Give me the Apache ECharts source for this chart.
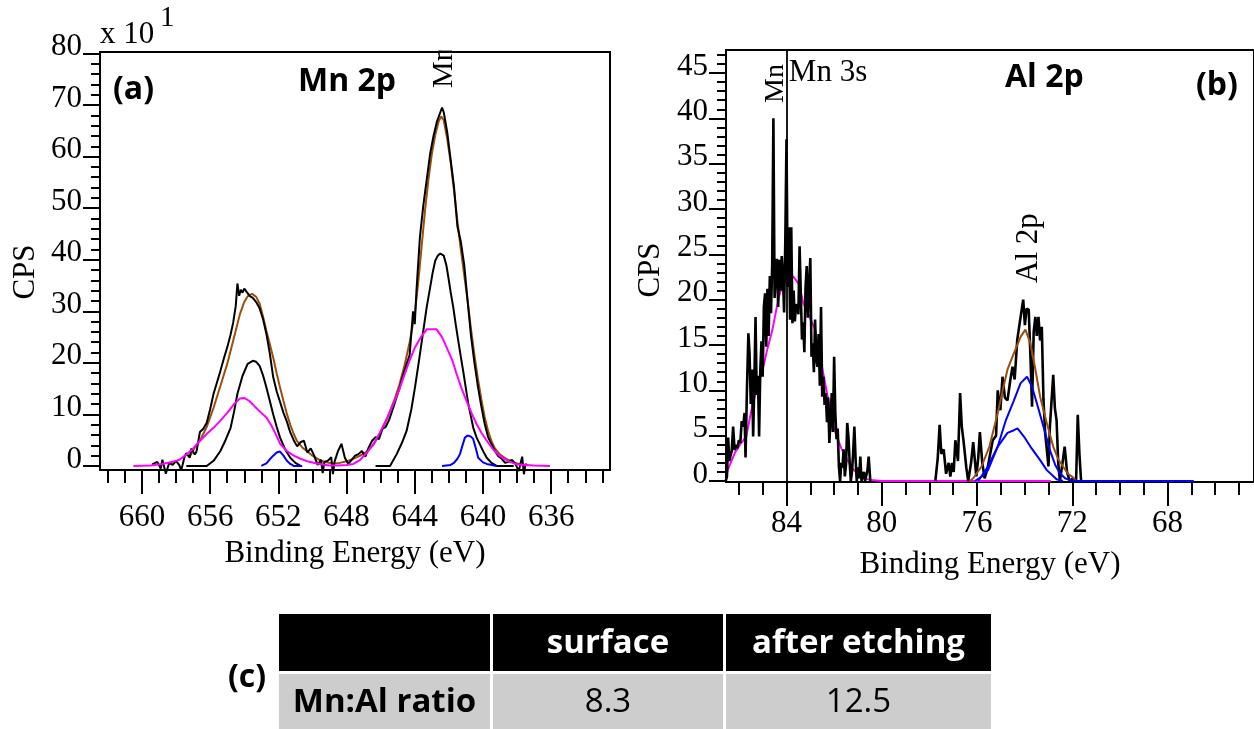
<!DOCTYPE html>
<html>
<head>
<meta charset="utf-8">
<script src="https://cdn.jsdelivr.net/npm/echarts@6/dist/echarts.min.js"></script>
<style>
html, body { margin: 0; padding: 0; background: #fff; }
#chart { width: 1254px; height: 729px; }
</style>
</head>
<body>
<div id="chart"></div>
<script>
// ---- (a) Mn 2p: [binding energy (eV), counts in units of 10 CPS] ----
const mn2pRaw = [
  [659.4,0.3],[659.1,0.8],[658.9,-0.5],[658.8,1.2],[658.6,-1.5],[658.4,0.6],[658.2,0.2],[658.0,1.0],
  [657.8,0.1],[657.7,-0.9],[657.5,1.8],[657.4,2.5],[657.2,1.6],[657.1,3.4],[656.9,2.2],[656.8,2.8],
  [656.6,6.6],[656.4,7.2],[656.2,8.4],[656.0,11.0],[655.8,14.0],[655.6,16.2],[655.4,18.4],[655.2,20.8],
  [655.0,23.0],[654.8,25.5],[654.65,27.8],[654.5,31.0],[654.4,35.4],[654.3,33.0],[654.2,34.2],[654.1,33.6],
  [654.0,34.4],[653.8,33.5],[653.65,32.9],[653.5,32.6],[653.3,31.8],[653.1,30.6],[652.9,28.5],[652.7,25.6],
  [652.5,21.8],[652.3,17.2],[652.1,14.5],[651.9,12.4],[651.7,10.3],[651.5,8.6],[651.3,6.5],[651.1,5.0],
  [650.9,3.8],[650.7,4.6],[650.5,4.9],[650.3,2.6],[650.1,3.4],[649.9,2.0],[649.7,0.2],[649.5,1.2],
  [649.4,-1.4],[649.3,0.8],[649.1,1.0],[648.9,1.7],[648.8,-1.6],[648.7,0.9],[648.5,2.9],[648.3,4.3],
  [648.1,1.6],[647.9,0.4],[647.7,1.2],[647.5,2.0],[647.3,2.3],[647.1,2.9],[646.9,1.8],[646.7,3.6],
  [646.5,4.9],[646.3,5.6],[646.1,5.2],[645.9,7.2],[645.7,7.6],[645.5,9.0],[645.3,10.9],[645.1,13.0],
  [644.9,15.0],[644.7,17.5],[644.5,19.5],[644.3,21.5],[644.1,30.0],[644.0,27.5],[643.9,34.0],[643.7,44.3],
  [643.5,50.5],[643.3,55.5],[643.1,60.5],[642.9,64.0],[642.7,66.8],[642.5,68.6],[642.4,69.5],[642.3,68.6],
  [642.1,64.8],[641.9,59.5],[641.7,54.2],[641.5,46.5],[641.3,43.5],[641.1,39.0],[640.9,32.0],[640.7,25.2],
  [640.5,20.0],[640.3,15.5],[640.1,11.6],[639.9,8.2],[639.7,5.6],[639.5,4.2],[639.3,2.9],[639.1,1.9],
  [638.9,1.4],[638.7,0.6],[638.5,0.8],[638.3,1.2],[638.1,0.4],[637.9,-1.0],[637.8,0.5],[637.7,1.8],
  [637.6,-1.6],[637.5,0.4],[637.4,0.1]
];
const mn2pEnvelope = [
  [657.2,1.8],[656.9,3.6],[656.6,4.9],[656.2,7.6],[655.8,11.3],[655.4,15.5],[655.0,19.8],[654.65,24.3],
  [654.25,29.5],[654.0,31.8],[653.8,32.9],[653.55,33.4],[653.3,32.8],[653.1,31.5],[652.9,29.0],[652.7,26.2],
  [652.5,23.6],[652.3,21.0],[652.1,18.0],[651.9,15.2],[651.7,12.6],[651.5,10.1],[651.3,8.0],[651.1,6.2],
  [650.9,4.8],[650.6,3.6],[650.3,2.8],[650.0,2.0],[649.6,1.2],[649.2,0.7],[648.8,0.5],[648.4,0.6],
  [648.0,0.9],[647.6,1.4],[647.2,2.0],[646.8,2.8],[646.4,4.2],[646.0,6.6],[645.6,9.4],[645.2,12.8],
  [644.9,15.8],[644.6,19.5],[644.3,24.0],[644.0,29.5],[643.8,35.5],[643.6,42.5],[643.4,49.5],[643.2,55.5],
  [643.0,60.5],[642.8,64.2],[642.6,66.8],[642.45,67.8],[642.3,67.0],[642.1,63.5],[641.9,59.0],[641.7,53.5],
  [641.5,47.5],[641.3,42.0],[641.1,37.0],[640.9,32.0],[640.7,26.5],[640.5,21.5],[640.3,17.0],[640.1,13.0],
  [639.9,9.5],[639.7,6.8],[639.5,4.8],[639.3,3.4],[639.0,2.2],[638.6,1.3],[638.2,0.7],[637.8,0.3]
];
const mn2pMainPeaks = [
  [657.4,0],[656.2,0],[655.8,1.0],[655.4,2.9],[655.1,5.0],[654.8,7.4],[654.6,10.5],[654.4,14.0],
  [654.1,17.5],[653.8,19.8],[653.5,20.4],[653.3,20.2],[653.1,19.4],[652.9,17.6],[652.7,15.2],[652.5,12.6],
  [652.3,10.0],[652.1,7.6],[651.9,5.5],[651.6,3.2],[651.3,1.6],[651.0,0.6],[650.7,0],
  [648.0,null],
  [646.3,0],[645.45,0],[645.06,2.3],[644.75,4.5],[644.48,6.8],[644.2,11.0],[643.99,15.2],[643.75,20.5],
  [643.5,26.2],[643.3,30.8],[643.1,34.6],[642.95,37.5],[642.8,39.8],[642.65,40.8],[642.5,41.2],[642.3,40.8],
  [642.15,39.0],[642.03,36.6],[641.9,33.8],[641.74,30.7],[641.6,27.5],[641.45,24.3],[641.3,21.2],[641.16,18.4],
  [641.0,15.0],[640.86,12.0],[640.7,9.5],[640.57,7.4],[640.37,5.5],[640.18,4.2],[639.98,2.8],[639.78,1.6],
  [639.5,0.6],[639.2,0],[638.2,0]
];
const mn2pBroadPeaks = [
  [660.5,0],[659.5,0.1],[658.8,0.4],[658.2,0.8],[657.8,1.2],[657.4,2.2],[657.0,3.4],[656.6,4.9],
  [656.2,6.2],[655.8,7.4],[655.4,8.8],[655.0,10.3],[654.6,12.0],[654.25,13.1],[654.0,13.2],[653.7,12.6],
  [653.4,11.6],[653.0,10.3],[652.7,9.4],[652.4,7.8],[652.1,5.8],[651.9,4.3],[651.5,2.9],[651.1,2.0],
  [650.7,1.4],[650.2,0.8],[649.6,0.4],[649.0,0.1],[648.5,0.1],[648.0,0.2],[647.6,0.4],[647.2,1.2],
  [646.8,2.6],[646.4,4.4],[646.04,6.5],[645.6,9.4],[645.26,12.0],[644.95,14.5],[644.67,17.1],[644.3,20.5],
  [643.99,23.0],[643.6,25.2],[643.3,26.5],[642.72,26.5],[642.4,25.0],[642.13,23.0],[641.8,20.5],[641.54,17.8],
  [641.25,15.0],[640.96,12.6],[640.66,10.2],[640.37,8.1],[640.08,6.4],[639.78,4.9],[639.4,3.2],[639.0,1.9],
  [638.5,0.9],[638.02,0.3],[637.0,0.1],[636.07,0]
];
const mn2pMinorPeaks = [
  [653.0,0],[652.7,0.5],[652.5,1.3],[652.3,2.0],[652.1,2.6],[651.9,2.8],[651.7,2.0],[651.5,1.0],
  [651.3,0.4],[651.1,0],[650.6,0],
  [646.0,null],
  [642.4,0],[641.9,0.2],[641.7,0.6],[641.5,1.4],[641.35,2.3],[641.2,4.0],[641.06,5.5],[640.9,5.9],
  [640.7,5.7],[640.57,5.2],[640.4,3.2],[640.28,1.6],[640.0,0.7],[639.78,0.4],[639.2,0]
];

// ---- (b) Mn 3s / Al 2p: [binding energy (eV), CPS] ----
const mn3sRaw = [
  [86.55,0],[86.5,0.5],[86.45,4.8],[86.4,2.2],[86.35,2.8],[86.3,3.3],[86.24,6.0],[86.18,3.4],
  [86.12,4.0],[86.06,3.6],[86.0,4.5],[85.94,4.2],[85.88,6.6],[85.82,6.0],[85.76,7.5],[85.72,2.6],
  [85.66,10.2],[85.6,16.3],[85.55,14.0],[85.5,8.5],[85.45,12.3],[85.4,4.9],[85.35,10.8],[85.3,18.1],
  [85.25,9.5],[85.2,11.6],[85.15,4.9],[85.1,12.3],[85.05,15.4],[85.0,11.5],[84.95,19.2],[84.9,20.7],
  [84.85,14.8],[84.8,21.2],[84.75,16.0],[84.7,22.6],[84.65,18.5],[84.6,23.9],[84.55,40.0],[84.5,20.2],
  [84.45,23.0],[84.4,24.5],[84.35,19.2],[84.3,24.4],[84.25,21.0],[84.2,24.8],[84.15,22.6],[84.1,18.6],
  [84.05,26.5],[84.0,37.7],[83.95,21.4],[83.9,28.0],[83.85,17.8],[83.8,28.0],[83.75,17.4],[83.7,21.0],
  [83.65,17.6],[83.6,19.5],[83.55,19.2],[83.5,18.4],[83.45,25.9],[83.4,20.8],[83.35,15.6],[83.3,17.5],
  [83.25,14.2],[83.2,21.4],[83.15,23.7],[83.1,18.0],[83.05,21.6],[83.0,24.6],[82.95,13.7],[82.9,15.2],
  [82.85,12.0],[82.8,17.8],[82.75,13.5],[82.7,12.6],[82.65,16.2],[82.6,10.5],[82.55,19.2],[82.5,9.3],
  [82.45,11.5],[82.4,8.4],[82.35,9.7],[82.3,6.5],[82.25,9.2],[82.2,4.2],[82.15,6.8],[82.1,9.7],
  [82.05,5.4],[82.0,13.7],[81.95,7.5],[81.9,4.6],[81.85,5.8],[81.8,1.6],[81.75,0],[81.7,2.0],
  [81.65,1.5],[81.6,3.5],[81.55,0.5],[81.5,1.8],[81.45,6.4],[81.4,4.9],[81.35,2.2],[81.3,0],
  [81.25,1.0],[81.2,3.2],[81.15,6.0],[81.1,2.5],[81.05,0],[81.0,1.5],[80.95,0.3],[80.9,2.7],
  [80.85,0],[80.75,1.0],[80.7,0],[80.6,1.2],[80.55,2.7],[80.48,0]
];
const al2pRaw = [
  [77.75,0],[77.65,2.5],[77.57,6.2],[77.5,3.0],[77.4,3.5],[77.3,0.8],[77.19,2.0],[77.12,0.5],
  [77.05,2.0],[76.98,1.0],[76.91,4.5],[76.8,2.2],[76.71,9.7],[76.64,6.0],[76.57,4.5],[76.45,1.5],
  [76.37,0],[76.25,2.0],[76.16,4.3],[76.03,0.5],[75.95,2.5],[75.88,5.4],[75.78,2.0],[75.68,0.3],
  [75.55,1.5],[75.48,2.5],[75.34,4.5],[75.2,5.0],[75.13,10.0],[75.02,7.8],[74.93,11.5],[74.83,9.2],
  [74.72,8.9],[74.61,11.0],[74.51,12.6],[74.42,11.2],[74.31,15.6],[74.17,18.1],[74.06,20.0],[73.99,17.2],
  [73.92,19.0],[73.83,18.9],[73.76,14.0],[73.69,8.2],[73.62,16.5],[73.55,18.1],[73.49,16.0],[73.42,18.1],
  [73.35,15.5],[73.28,17.0],[73.21,9.0],[73.14,5.3],[73.07,3.5],[73.0,1.6],[72.94,6.0],[72.8,11.7],
  [72.73,8.0],[72.66,6.7],[72.59,2.0],[72.52,0],[72.41,2.0],[72.32,3.8],[72.22,1.0],[72.11,0],
  [71.97,0.3],[71.84,0],[71.77,7.3],[71.7,3.0],[71.63,0]
];
const mn3sFit = [
  [86.5,0.9],[86.44,1.4],[86.17,3.1],[85.95,4.0],[85.69,4.9],[85.55,6.8],[85.41,8.6],[85.2,10.5],
  [85.0,12.3],[84.8,14.6],[84.59,16.7],[84.45,18.6],[84.32,20.3],[84.15,21.8],[84.0,22.6],[83.9,22.9],
  [83.7,22.5],[83.5,21.8],[83.29,19.6],[83.05,18.2],[82.8,16.7],[82.6,13.8],[82.4,11.1],[82.2,8.3],
  [81.98,5.6],[81.7,3.6],[81.44,2.3],[81.2,1.3],[81.03,0.85],[80.75,0.35],[80.48,0.1],[80.0,0],
  [77.0,0],[74.0,0],[72.9,0]
];
const al2pEnvelope = [
  [76.3,0],[76.16,0.3],[75.81,1.6],[75.48,3.8],[75.13,7.5],[74.92,10.0],[74.72,12.3],[74.45,14.1],
  [74.17,15.9],[73.97,16.7],[73.76,15.2],[73.55,12.3],[73.35,9.3],[73.07,6.4],[72.8,3.8],[72.59,2.4],
  [72.39,1.6],[72.18,0.8],[71.97,0.4],[71.84,0]
];
const al2pPeakMain = [
  [76.09,0],[75.8,0.5],[75.54,1.2],[75.13,3.8],[74.79,6.7],[74.45,8.9],[74.17,10.8],[73.9,11.5],
  [73.69,10.4],[73.49,8.6],[73.21,6.0],[72.94,3.4],[72.72,1.8],[72.52,0.85],[72.3,0.3],[72.11,0.1],
  [71.8,0],[66.9,0]
];
const al2pPeakMinor = [
  [75.95,0],[75.54,1.6],[75.13,3.8],[74.72,5.3],[74.45,5.6],[74.3,5.8],[74.03,4.9],[73.76,3.8],
  [73.35,2.3],[73.07,1.2],[72.66,0.2],[72.39,0]
];
const mn3sMarkerEnergy = 84.0;

// ---- tick labels ----
const mn2pEnergyLabels = [660, 656, 652, 648, 644, 640, 636];
const mn2pCpsLabels = [0, 10, 20, 30, 40, 50, 60, 70, 80];
const al2pEnergyLabels = [84, 80, 76, 72, 68];
const al2pCpsLabels = [0, 5, 10, 15, 20, 25, 30, 35, 40, 45];

// ---- (c) table ----
const tableHeader = ['', 'surface', 'after etching'];
const tableRow = ['Mn:Al ratio', '8.3', '12.5'];

function steps(from, to, step) {
  const out = [];
  for (let v = from; v <= to + 1e-9; v += step) out.push(+v.toFixed(3));
  return out;
}

const SERIF = '"Liberation Serif", "Times New Roman", serif';
const SANS = '"Open Sans", "Noto Sans", sans-serif';
const INK = '#000';
const BROWN = '#9a4f0a';
const MAGENTA = '#ff00ff';
const BLUE = '#0000ff';

function xAxisPair(grid, min, max, labels, minorTicks, labelMargin) {
  const base = {
    type: 'value', gridIndex: grid, min: min, max: max, inverse: true,
    position: 'bottom', offset: 0, splitLine: { show: false }
  };
  return [
    Object.assign({}, base, {
      axisLine: { show: true, onZero: false, lineStyle: { color: INK, width: 2 } },
      axisTick: { show: true, inside: false, customValues: labels, length: 24, lineStyle: { color: INK, width: 2 } },
      axisLabel: { show: true, customValues: labels, margin: labelMargin, color: INK,
        fontFamily: SERIF, fontSize: 31, lineHeight: 28 },
      name: 'Binding Energy (eV)', nameLocation: 'middle', nameGap: 67,
      nameTextStyle: { fontFamily: SERIF, fontSize: 31, color: INK, lineHeight: 31 }
    }),
    Object.assign({}, base, {
      axisLine: { show: false, onZero: false },
      axisTick: { show: true, inside: false, customValues: minorTicks, length: 13, lineStyle: { color: INK, width: 2 } },
      axisLabel: { show: false }
    })
  ];
}

function yAxisPair(grid, min, max, labels, minorTicks) {
  const base = {
    type: 'value', gridIndex: grid, min: min, max: max,
    position: 'left', offset: 0, splitLine: { show: false }
  };
  return [
    Object.assign({}, base, {
      axisLine: { show: true, onZero: false, lineStyle: { color: INK, width: 2 } },
      axisTick: { show: true, inside: false, customValues: labels, length: 17, lineStyle: { color: INK, width: 2 } },
      axisLabel: { show: true, customValues: labels, margin: 18, color: INK,
        fontFamily: SERIF, fontSize: 31, lineHeight: 13, verticalAlign: 'bottom' }
    }),
    Object.assign({}, base, {
      axisLine: { show: false, onZero: false },
      axisTick: { show: true, inside: false, customValues: minorTicks, length: 9, lineStyle: { color: INK, width: 2 } },
      axisLabel: { show: false }
    })
  ];
}

function curve(name, data, color, width, axisIdx, extra) {
  return Object.assign({
    name: name, type: 'line', data: data, xAxisIndex: axisIdx, yAxisIndex: axisIdx,
    symbol: 'none', showSymbol: false, connectNulls: false, silent: true,
    lineStyle: { color: color, width: width }, itemStyle: { color: color },
    animation: false
  }, extra || {});
}

const chart = echarts.init(document.getElementById('chart'), null, { renderer: 'canvas' });

chart.setOption({
  backgroundColor: '#fff',
  animation: false,
  grid: [
    { left: 100, top: 52, width: 510, height: 418, show: true, borderColor: INK, borderWidth: 2, backgroundColor: 'transparent' },
    { left: 726, top: 50, width: 539, height: 432, show: true, borderColor: INK, borderWidth: 2, backgroundColor: 'transparent' }
  ],
  xAxis: [].concat(
    xAxisPair(0, 632.55, 662.46, mn2pEnergyLabels, steps(633, 662, 1), 34),
    xAxisPair(1, 64.37, 86.54, al2pEnergyLabels, steps(65, 86, 1), 28)
  ),
  yAxis: [].concat(
    yAxisPair(0, -0.78, 80.29, mn2pCpsLabels, steps(0, 80, 2)),
    yAxisPair(1, -0.11, 47.54, al2pCpsLabels, steps(0, 47, 1))
  ),
  series: [
    curve('Mn 2p envelope', mn2pEnvelope, BROWN, 2, 0),
    curve('Mn 2p raw', mn2pRaw, INK, 2, 0, { clip: false }),
    curve('Mn 2p main', mn2pMainPeaks, INK, 2, 0),
    curve('Mn 2p broad', mn2pBroadPeaks, MAGENTA, 2, 0),
    curve('Mn 2p minor', mn2pMinorPeaks, BLUE, 2, 0),
    curve('Mn 3s fit', mn3sFit, MAGENTA, 2, 2),
    curve('Mn 3s raw', mn3sRaw, INK, 2.6, 2, {
      markLine: {
        silent: true, symbol: 'none', animation: false,
        label: { show: false },
        lineStyle: { color: INK, width: 1.8, type: 'solid' },
        data: [{ xAxis: mn3sMarkerEnergy }]
      }
    }),
    curve('Al 2p raw', al2pRaw, INK, 2.6, 2),
    curve('Al 2p envelope', al2pEnvelope, BROWN, 2, 2),
    curve('Al 2p main', al2pPeakMain, BLUE, 2, 2),
    curve('Al 2p minor', al2pPeakMinor, BLUE, 2, 2)
  ]
});

// text helpers
function txt(x, y, text, font, align, vAlign, color, rotation, z) {
  return {
    type: 'text', x: x, y: y, rotation: rotation || 0, z: z || 100, silent: true,
    style: {
      text: text, font: font, fill: color || INK,
      align: align || 'left', textAlign: align || 'left',
      verticalAlign: vAlign || 'middle', textVerticalAlign: vAlign || 'middle'
    }
  };
}

const pA = (e, v) => chart.convertToPixel({ seriesIndex: 0 }, [e, v]);
const pB = (e, v) => chart.convertToPixel({ seriesIndex: 5 }, [e, v]);

const mnA = pA(642.3, 73.3);
const mnB = pB(84.44, 41.7);
const mn3s = pB(83.9, 45.0);
const alB = pB(73.83, 21.85);

const graphics = [
  // axis multiplier
  txt(100, 35, 'x 10', '31px ' + SERIF),
  txt(160, 18, '1', '29px ' + SERIF),
  // y axis titles
  txt(26, 272, 'CPS', '31px ' + SERIF, 'center', 'middle', INK, Math.PI / 2),
  txt(651, 270, 'CPS', '31px ' + SERIF, 'center', 'middle', INK, Math.PI / 2),
  // panel titles
  txt(113, 90, '(a)', 'bold 32px ' + SANS),
  txt(298, 82, 'Mn 2p', 'bold 32px ' + SANS),
  txt(1196, 86, '(b)', 'bold 32px ' + SANS),
  txt(1005, 78, 'Al 2p', 'bold 32px ' + SANS),
  // peak annotations
  txt(mnA[0], mnA[1], 'Mn', '30px ' + SERIF, 'left', 'middle', INK, Math.PI / 2, 90),
  txt(mnB[0], mnB[1], 'Mn', '28px ' + SERIF, 'left', 'middle', INK, Math.PI / 2),
  txt(mn3s[0], mn3s[1], 'Mn 3s', '31px ' + SERIF, 'left', 'middle'),
  txt(alB[0], alB[1], 'Al 2p', '31px ' + SERIF, 'left', 'middle', INK, Math.PI / 2),
  // the Mn 2p annotation is cut at the frame edge
  { type: 'rect', z: 95, silent: true, shape: { x: 425, y: 0, width: 40, height: 50.5 }, style: { fill: '#fff' } },
  // (c) label
  txt(228, 678, '(c)', 'bold 32px ' + SANS)
];

// (c) table cells
const colEdges = [[279, 490], [493, 723], [726, 991]];
const rowEdges = [[614, 671], [674, 729]];
[tableHeader, tableRow].forEach(function (row, r) {
  row.forEach(function (cell, c) {
    const x0 = colEdges[c][0], x1 = colEdges[c][1];
    const y0 = rowEdges[r][0], y1 = rowEdges[r][1];
    graphics.push({
      type: 'rect', z: 50, silent: true,
      shape: { x: x0, y: y0, width: x1 - x0, height: y1 - y0 },
      style: { fill: r === 0 ? '#000' : '#cdcdcd' }
    });
    if (cell) {
      const bold = r === 0 || c === 0;
      graphics.push(txt((x0 + x1) / 2, (y0 + y1) / 2 + 1, cell,
        (bold ? 'bold ' : '') + '33px ' + SANS, 'center', 'middle', r === 0 ? '#fff' : INK));
    }
  });
});

chart.setOption({ graphic: graphics });
</script>
</body>
</html>
